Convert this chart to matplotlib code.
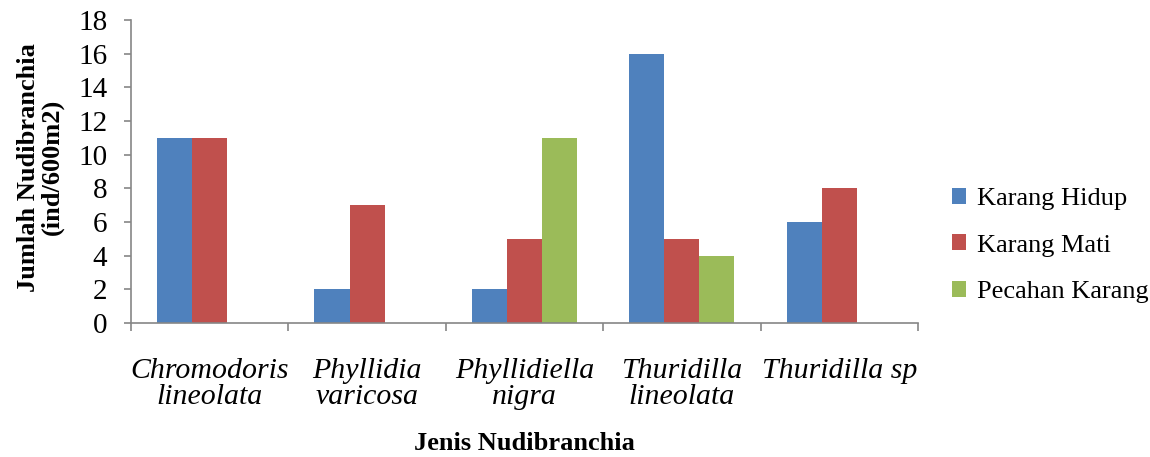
import numpy as np
import matplotlib
matplotlib.use("Agg")
import matplotlib.pyplot as plt
from matplotlib.patches import Patch

species = ["Chromodoris\nlineolata", "Phyllidia\nvaricosa", "Phyllidiella\nnigra",
           "Thuridilla\nlineolata", "Thuridilla sp"]
series_names = ["Karang Hidup", "Karang Mati", "Pecahan Karang"]
karang_hidup = [11, 2, 2, 16, 6]
karang_mati = [11, 7, 5, 5, 8]
pecahan_karang = [0, 0, 11, 4, 0]

COLORS = ["#4F81BD", "#C0504D", "#9BBB59"]
AXIS_COLOR = "#868686"

plt.rcParams["font.family"] = "serif"
plt.rcParams["font.serif"] = ["Liberation Serif", "DejaVu Serif"]

fig = plt.figure(figsize=(11.5, 4.57), dpi=100)
ax = fig.add_axes([0.1139, 0.2932, 0.6843, 0.6630])

x = np.arange(len(species))
w = 0.223
for k, vals in enumerate([karang_hidup, karang_mati, pecahan_karang]):
    ax.bar(x + (k - 1) * w, vals, width=w, color=COLORS[k], linewidth=0)

ax.set_xlim(-0.5, len(species) - 0.5)
ax.set_ylim(0, 18)
ax.set_yticks(range(0, 19, 2))
ax.tick_params(axis="y", labelsize=21, length=5, color=AXIS_COLOR, width=1.2, pad=12)

ax.set_xticks(x)
ax.set_xticklabels(species, fontsize=21.5, style="italic", linespacing=1.03)
ax.tick_params(axis="x", length=0, pad=25)
ax.set_xticks(np.arange(-0.5, len(species), 1), minor=True)
ax.tick_params(axis="x", which="minor", length=6, direction="out", color=AXIS_COLOR, width=1.2)

for s in ["top", "right"]:
    ax.spines[s].set_visible(False)
for s in ["left", "bottom"]:
    ax.spines[s].set_color(AXIS_COLOR)
    ax.spines[s].set_linewidth(1.2)

fig.text(0.456, 0.004, "Jenis Nudibranchia", fontsize=19, fontweight="bold",
         ha="center", va="bottom")
fig.text(0.035, 0.634, "Jumlah Nudibranchia\n(ind/600m2)", fontsize=19,
         fontweight="bold", rotation=90, ha="center", va="center", linespacing=1.05)

handles = [Patch(facecolor=c, edgecolor="none") for c in COLORS]
fig.legend(handles, series_names, loc="center left", bbox_to_anchor=(0.807, 0.463),
           frameon=False, fontsize=19, handlelength=0.55, handleheight=0.55,
           handletextpad=0.4, labelspacing=0.92)

fig.savefig("out.png", dpi=100)
